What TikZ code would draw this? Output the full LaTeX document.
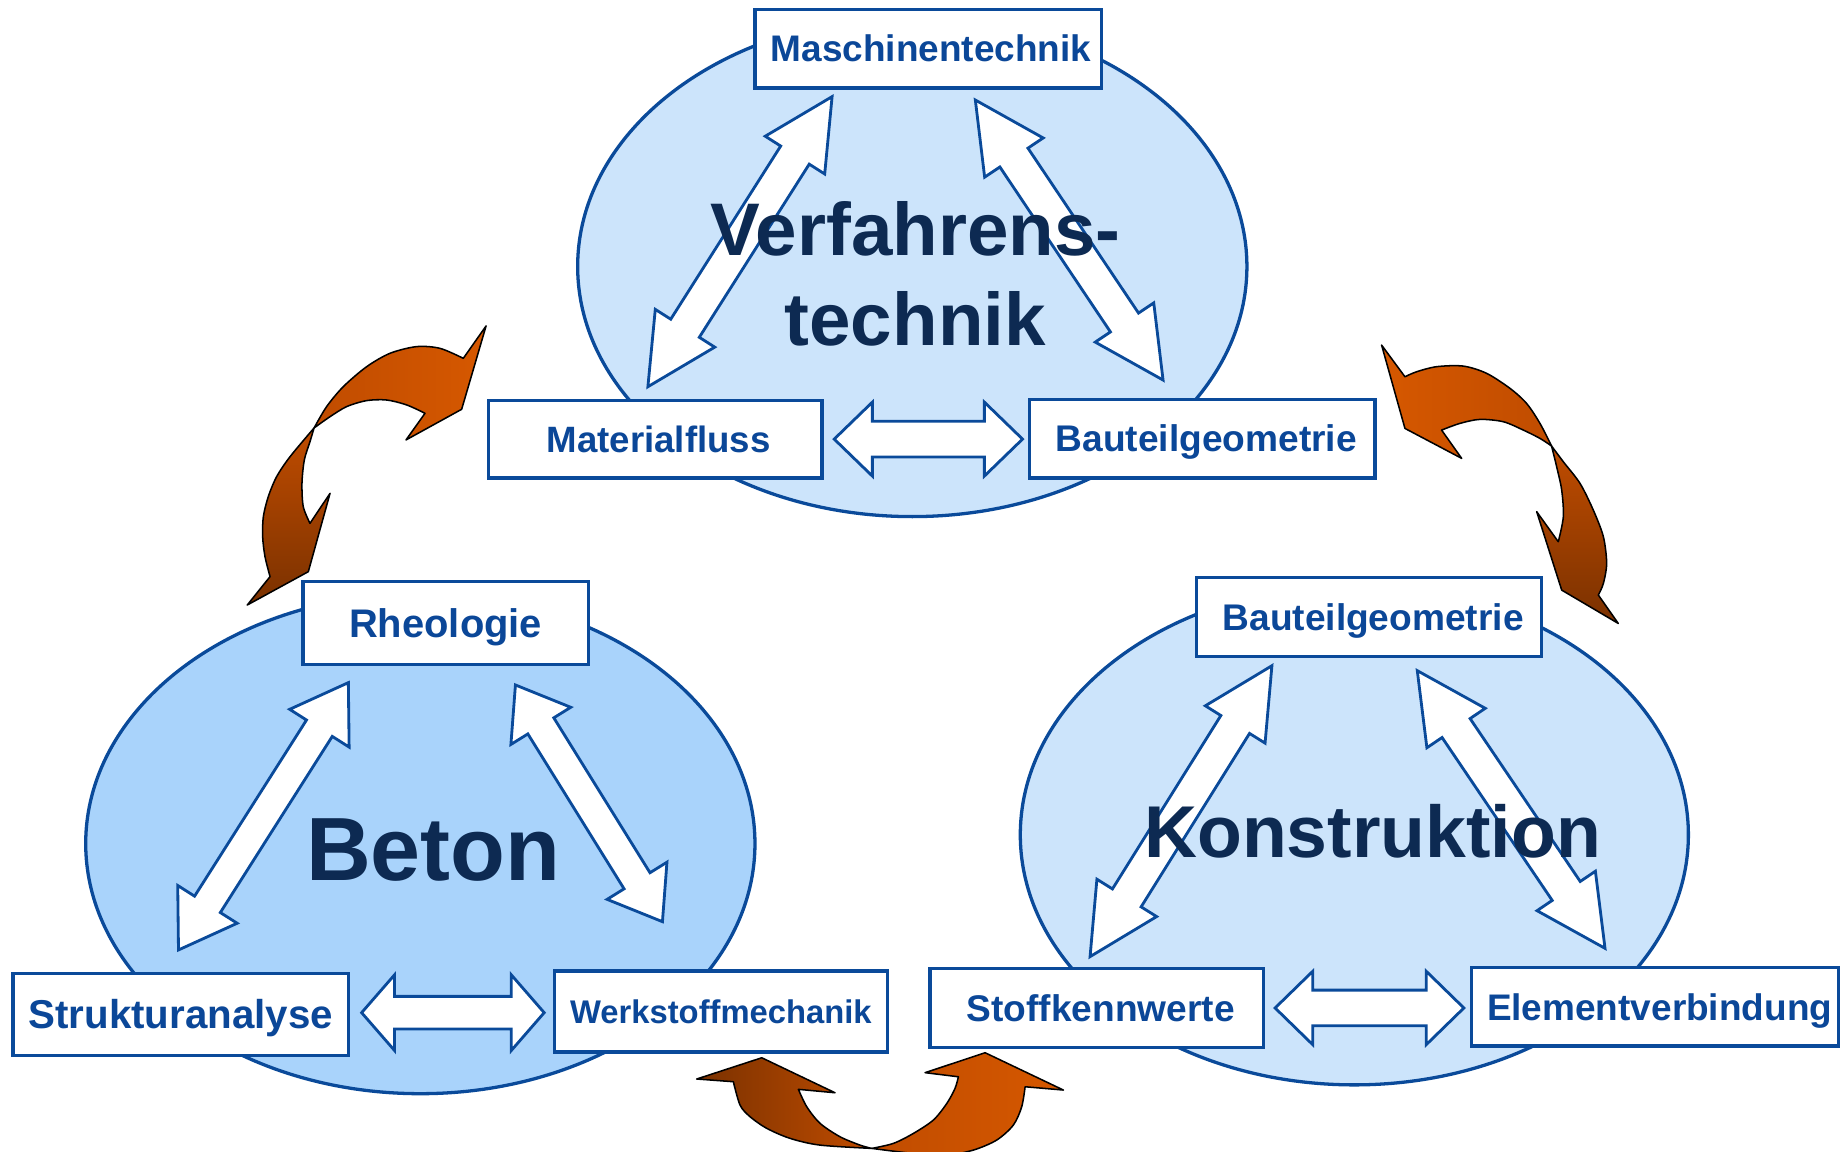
\documentclass[tikz,border=0pt]{standalone}
\usepackage{fontspec}
\setmainfont{Liberation Sans}
\usetikzlibrary{shapes.geometric}
\definecolor{eblue}{HTML}{0A4A9A}
\definecolor{tblue}{HTML}{0B4798}
\definecolor{navy}{HTML}{0D2A52}
\definecolor{fillA}{HTML}{A9D3FB}
\definecolor{fillB}{HTML}{CCE4FB}
\definecolor{orA}{HTML}{D65800}
\definecolor{orB}{HTML}{C04C00}
\definecolor{brn}{HTML}{7A3100}
\tikzset{
  field/.style={draw=eblue, line width=2.8pt, ellipse, inner sep=0pt},
  topic/.style={draw=eblue, line width=2.8pt, fill=white, rectangle, inner sep=0pt,
    text=tblue, font=\bfseries\fontsize{#1}{#1}\selectfont, text height={#1*0.716pt}, text depth=0pt},
  blockarrow/.style={draw=eblue, line width=2.4pt, fill=white, line join=miter},
  title/.style={text=navy, inner sep=0pt},
  swoosh/.style={draw=black, line width=1.3pt, line join=round},
}
\newcommand\dblock[7]{%
  \pgfmathsetmacro\baang{atan2(#2-#4,#3-#1)}%
  \pgfmathsetmacro\balen{veclen(#3-#1,#4-#2)}%
  \begin{scope}[shift={(#1,#2)},rotate=\baang]
    \draw[blockarrow] (0,0) -- (#5,#6) -- (#5,#7) -- (\balen-#5,#7) -- (\balen-#5,#6)
      -- (\balen,0) -- (\balen-#5,-#6) -- (\balen-#5,-#7) -- (#5,-#7) -- (#5,-#6) -- cycle;
  \end{scope}}
\begin{document}
\begin{tikzpicture}[x=1pt,y=-1pt]
\fill[white] (0,0) rectangle (1568,981);
\useasboundingbox (0,0) rectangle (1568,981);

% fields
\node[field, fill=fillB, minimum width=570pt, minimum height=426pt] (vt) at (777,227) {};
\node[field, fill=fillA, minimum width=570pt, minimum height=426pt] (bt) at (358,718.5) {};
\node[field, fill=fillB, minimum width=569pt, minimum height=426pt] (ko) at (1153.5,711) {};

% block arrows
\dblock{708.7}{82.3}{551.8}{329.4}{59}{30}{14.4}
\dblock{830.7}{85.2}{990.6}{323.7}{59}{30}{14.4}
\dblock{710.5}{374}{870.9}{374}{32.5}{31.5}{15.2}
\dblock{296.7}{581.4}{152}{809.1}{46}{30}{13}
\dblock{439}{583.4}{564.2}{785}{41}{30}{13}
\dblock{308}{862.5}{463.5}{862.5}{28}{32.2}{13.9}
\dblock{1083.3}{567}{928.4}{814.8}{59}{30}{14.4}
\dblock{1207.1}{571.2}{1367}{807.7}{59}{30}{14.4}
\dblock{1086}{858.5}{1246.8}{858.5}{32}{31.2}{15.2}

% titles
\node[title, font=\bfseries\fontsize{63.5}{76.7}\selectfont, align=center, anchor=north] (vtt) at (779.5,171) {Verfahrens-\\technik};
\node[title, font=\bfseries\fontsize{76.5}{90}\selectfont, anchor=base] (btt) at (369,749.5) {Beton};
\node[title, font=\bfseries\fontsize{62.5}{75}\selectfont, anchor=base] (kot) at (1169,730.5) {Konstruktion};

% boxes
\node[topic=31.5, minimum width=295pt, minimum height=67pt] (masch) at (790.5,41.5) {\hspace{5pt}Maschinentechnik};
\node[topic=31.2, minimum width=284pt, minimum height=66pt] (matfl) at (558,374) {\hspace{6pt}Materialfluss};
\node[topic=31.6, minimum width=294pt, minimum height=67pt] (bgeo1) at (1024,373.5) {\hspace{7pt}Bauteilgeometrie};
\node[topic=34, minimum width=243pt, minimum height=71pt] (rheo) at (379.5,530.5) {Rheologie};
\node[topic=34.3, minimum width=286pt, minimum height=70pt] (struk) at (154,864) {Strukturanalyse};
\node[topic=27.9, minimum width=284pt, minimum height=69pt] (werk) at (614,861.5) {Werkstoffmechanik};
\node[topic=31.6, minimum width=294pt, minimum height=67pt] (bgeo2) at (1166,525.5) {\hspace{7pt}Bauteilgeometrie};
\node[topic=31.6, minimum width=284pt, minimum height=67pt] (stoff) at (934,858.5) {\hspace{7pt}Stoffkennwerte};
\node[topic=31.5, minimum width=313pt, minimum height=67pt] (elem) at (1409.5,857.5) {\hspace{8pt}Elementverbindung};

% curved arrows: left pair
\draw[swoosh, left color=orB, right color=orA]
 (267.5,364.5) -- plot[smooth] coordinates {(267.5,364.5) (278.2,346.3) (292.4,329.3) (312.3,312.3) (332.2,300.9) (354.9,295.2) (374.8,296.7) (394.6,305.2)}
 -- (414.0,277.6) -- (393.2,348.6) -- (345.8,374.7) -- (362.0,352.0)
 -- plot[smooth] coordinates {(362.0,352.0) (346.4,344.9) (329.3,340.7) (312.3,341.2) (295.3,346.3) (281.1,354.9) (267.5,364.5)} -- cycle;
\draw[swoosh, top color=orB, bottom color=brn]
 (267.5,364.5) -- plot[smooth] coordinates {(267.5,364.5) (247,389) (235.6,406) (228.5,423) (224.3,440) (223.7,457.1) (225.7,474.1) (230,491.1)}
 -- (210.6,515.3) -- (262.6,486.9) -- (281.1,420.2) -- (264,445.7)
 -- plot[smooth] coordinates {(264,445.7) (258.3,431.5) (257.2,411.6) (259.2,391.8) (264,376.2) (267.5,364.5)} -- cycle;

% bottom pair
\draw[swoosh, left color=brn, right color=orB]
 (742.5,978.1) -- plot[smooth] coordinates {(742.5,978.1) (698.5,975.3) (673,969.6) (653,961) (638.8,951.1) (630.3,941.2) (624.6,921.3)}
 -- (593.4,919.0) -- (648.8,900.9) -- (711.2,930.7) -- (680.0,927.8)
 -- plot[smooth] coordinates {(680.0,927.8) (687.1,942.6) (698.5,956.8) (715.5,968.2) (732.5,975.3) (742.5,978.1)} -- cycle;
\draw[swoosh, left color=orB, right color=orA]
 (742.5,978.1) -- plot[smooth] coordinates {(742.5,978.1) (761,973.8) (778,965.3) (795,953.9) (806.4,939.8) (813.4,927) (816.3,917.1)}
 -- (787.9,913.6) -- (839,896.6) -- (905.7,928.4) -- (873.1,925.6)
 -- plot[smooth] coordinates {(873.1,925.6) (870.2,942.6) (863.1,958.2) (848.9,971) (829.1,979.5) (806.3,983.8) (778,982.4) (742.5,978.1)} -- cycle;

% right pair
\draw[swoosh, left color=orA, right color=orB]
 (1321.5,379.9) -- plot[smooth] coordinates {(1321.5,379.9) (1311.6,360.6) (1300.2,343.6) (1286.1,330.8) (1266.2,318) (1246.3,311.8) (1223.6,312.3) (1206.6,316.6) (1196.6,320.9)}
 -- (1176.7,293.9) -- (1196.6,364.9) -- (1244.9,390.4) -- (1227.8,366.3)
 -- plot[smooth] coordinates {(1227.8,366.3) (1243.5,360.6) (1260.5,357.2) (1280.4,359.2) (1297.4,366.3) (1311.6,373.4) (1321.5,379.9)} -- cycle;
\draw[swoosh, top color=orB, bottom color=brn]
 (1321.5,379.9) -- plot[smooth] coordinates {(1321.5,379.9) (1331.5,393.3) (1345.7,411.7) (1357.0,434.4) (1365.6,457.1) (1368.4,479.9) (1365.6,496.9) (1361.3,506.8)}
 -- (1378.3,531) -- (1330.1,502.6) -- (1308.8,435.8) -- (1327.2,461.4)
 -- plot[smooth] coordinates {(1327.2,461.4) (1331.5,440.1) (1330.1,417.4) (1325.8,397.5) (1321.5,379.9)} -- cycle;
\end{tikzpicture}
\end{document}
